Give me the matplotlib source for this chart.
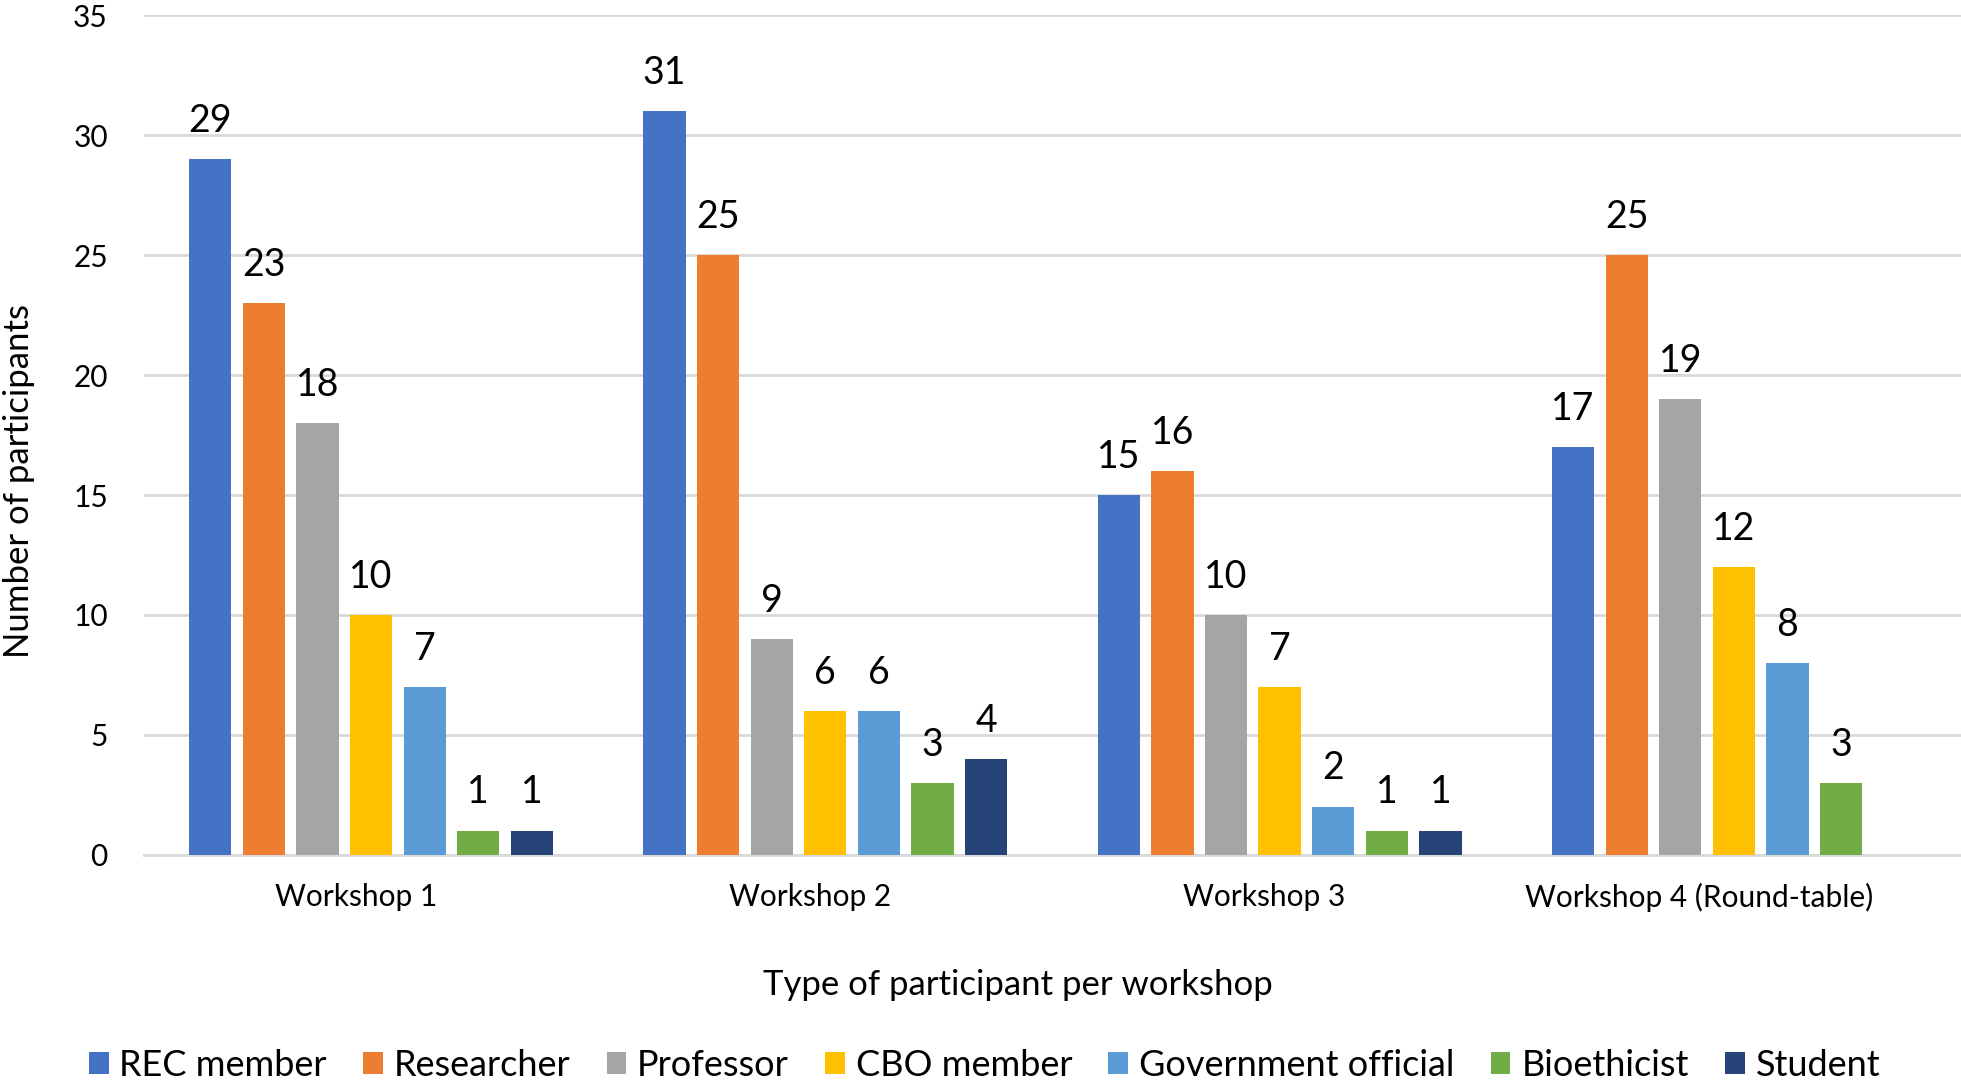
import numpy as np
import matplotlib
matplotlib.use("Agg")
import matplotlib.pyplot as plt
from matplotlib.patches import Patch

plt.rcParams['font.family'] = ['Lato', 'DejaVu Sans']

# Data
workshops = ["Workshop 1", "Workshop 2", "Workshop 3", "Workshop 4 (Round-table)"]
participant_types = ["REC member", "Researcher", "Professor", "CBO member",
                     "Government official", "Bioethicist", "Student"]
rec_member = [29, 31, 15, 17]
researcher = [23, 25, 16, 25]
professor = [18, 9, 10, 19]
cbo_member = [10, 6, 7, 12]
government_official = [7, 6, 2, 8]
bioethicist = [1, 3, 1, 3]
student = [1, 4, 1, np.nan]  # no student bar in workshop 4

series = [rec_member, researcher, professor, cbo_member,
          government_official, bioethicist, student]
colors = ["#4472C4", "#ED7D31", "#A5A5A5", "#FFC000",
          "#5B9BD5", "#70AD47", "#264478"]

fig = plt.figure(figsize=(19.61, 10.89), dpi=100)
ax = fig.add_axes([0.0734, 0.215, 0.9266, 0.771])

x = np.arange(len(workshops))
pitch = 0.118
width = 0.093
n = len(series)
for i, (vals, col) in enumerate(zip(series, colors)):
    pos = x + (i - (n - 1) / 2) * pitch
    vals = np.array(vals, dtype=float)
    mask = ~np.isnan(vals)
    ax.bar(pos[mask], vals[mask], width=width, color=col, zorder=3)
    for p, v in zip(pos[mask], vals[mask]):
        ax.text(p, v + 0.85, f"{int(v)}", ha="center", va="bottom",
                fontsize=27, color="black")

ax.set_ylim(0, 35)
ax.set_xlim(-0.5, 3.5)
ax.set_yticks(range(0, 36, 5))
# labels sit a little left of the bar groups, as in the original
label_shift = np.array([-0.033, -0.033, -0.035, -0.077])
ax.set_xticks(x + label_shift)
ax.set_xticklabels(workshops, fontsize=21.5)
ax.tick_params(axis="y", labelsize=21.5, length=0, pad=26)
ax.tick_params(axis="x", length=0, pad=20)
ax.grid(axis="y", color="#D9D9D9", linewidth=2, zorder=0)
for s in ["top", "right", "left"]:
    ax.spines[s].set_visible(False)
ax.spines["bottom"].set_color("#D9D9D9")
ax.spines["bottom"].set_linewidth(2)

ax.set_ylabel("Number of participants", fontsize=25, va="center", ha="center")
ax.yaxis.set_label_coords(-0.0688, 0.445)
ax.set_xlabel("Type of participant per workshop", fontsize=25, va="center", ha="center")
ax.xaxis.set_label_coords(0.481, -0.155)

handles = [Patch(facecolor=c, label=l) for c, l in zip(colors, participant_types)]
fig.legend(handles=handles, loc="center", bbox_to_anchor=(0.502, 0.022),
           ncol=7, frameon=False, fontsize=26, handlelength=0.55,
           handleheight=0.55, handletextpad=0.3, columnspacing=1.0)

fig.savefig("out.png", dpi=100)
